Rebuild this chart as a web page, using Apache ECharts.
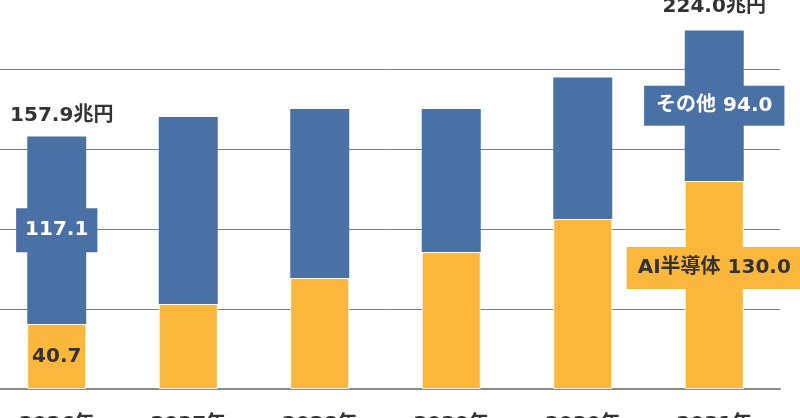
<!DOCTYPE html>
<html>
<head>
<meta charset="utf-8">
<script src="https://cdn.jsdelivr.net/npm/echarts@6/dist/echarts.min.js"></script>
<style>html,body{margin:0;padding:0;background:#fff;}#c{width:800px;height:418px;}</style>
</head>
<body>
<div id="c"></div>
<script>
const categories = ['2026年', '2027年', '2028年', '2029年', '2030年', '2031年'];
const aiValues = [40.7, 53.1, 69.4, 85.6, 106.3, 130.0];
const otherValues = [117.1, 116.9, 105.6, 89.4, 88.4, 94.0];
const totalValues = [157.9, 170.0, 175.0, 175.0, 194.7, 224.0];
const aiLabels = ['40.7', '', '', '', '', 'AI半導体 130.0'];
const otherLabels = ['117.1', '', '', '', '', 'その他 94.0'];
const totalLabels = ['157.9兆円', '', '', '', '', '224.0兆円'];

const FONT = 'DejaVu Sans, "Noto Sans CJK JP", sans-serif';
const BLUE = '#4a71a5';
const YELLOW = '#fbb63c';
const TXT = '#333333';

const chart = echarts.init(document.getElementById('c'));

const aiData = aiValues.map((v, i) => {
  const it = { value: v, label: { show: aiLabels[i] !== '' } };
  if (i === 5) {
    it.label.backgroundColor = YELLOW;
    it.label.padding = [11, 11];
    it.label.offset = [0, -17];
  }
  return it;
});
const otherData = otherValues.map((v, i) => {
  const it = { value: v, label: { show: otherLabels[i] !== '' } };
  if (i === 0) { it.label.padding = [12, 9]; }
  if (i === 5) { it.label.padding = [10, 12]; }
  return it;
});
const totalData = totalValues.map((v, i) => {
  const it = { value: v, label: { show: totalLabels[i] !== '' } };
  if (i === 0) { it.label.distance = 11; it.label.offset = [5, 0]; }
  return it;
});

chart.setOption({
  animation: false,
  backgroundColor: '#ffffff',
  grid: { left: -9, right: 20, top: -11, bottom: 29, containLabel: false, outerBoundsMode: 'none' },
  xAxis: {
    type: 'category',
    data: categories,
    axisTick: { show: false },
    axisLine: { show: true, lineStyle: { color: '#8a8a8a', width: 2 } },
    axisLabel: { color: TXT, fontSize: 20, fontWeight: 'bold', fontFamily: FONT, margin: 26 }
  },
  yAxis: {
    type: 'value',
    min: 0, max: 250, interval: 50,
    axisLabel: { show: false },
    axisLine: { show: false },
    axisTick: { show: false },
    splitLine: { show: true, lineStyle: { color: '#808080', width: 1 } }
  },
  series: [
    {
      name: 'AI半導体', type: 'bar', stack: 'total', barWidth: 59,
      itemStyle: { color: YELLOW, borderColor: 'rgba(255,255,255,0.8)', borderWidth: 1 },
      label: {
        position: 'inside', color: TXT, fontSize: 20, fontWeight: 'bold', fontFamily: FONT,
        formatter: p => aiLabels[p.dataIndex]
      },
      data: aiData
    },
    {
      name: 'その他', type: 'bar', stack: 'total', barWidth: 59,
      itemStyle: { color: BLUE },
      label: {
        position: 'inside', color: '#ffffff', fontSize: 20, fontWeight: 'bold', fontFamily: FONT,
        backgroundColor: BLUE,
        formatter: p => otherLabels[p.dataIndex]
      },
      data: otherData
    },
    {
      name: '合計', type: 'scatter', symbolSize: 0, z: 10,
      itemStyle: { opacity: 1, color: TXT },
      label: {
        position: 'top', distance: 14, color: TXT, opacity: 1, fontSize: 20, fontWeight: 'bold', fontFamily: FONT,
        formatter: p => totalLabels[p.dataIndex]
      },
      data: totalData
    }
  ]
});
</script>
</body>
</html>
